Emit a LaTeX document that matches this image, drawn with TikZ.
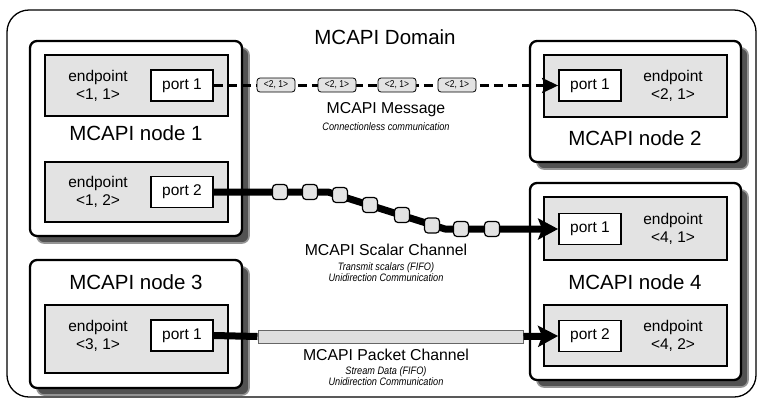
\documentclass[tikz,border=0pt]{standalone}
\usepackage{fontspec}
\setmainfont{Liberation Sans}
\newfontfamily\narrowfont[FakeStretch=0.85]{Liberation Sans}
\usetikzlibrary{arrows.meta}

\begin{document}
\begin{tikzpicture}[x=1pt,y=-1pt,
  domainframe/.style={draw=black, line width=1.3pt, rounded corners=22pt},
  nodebox/.style={draw=black, line width=2.3pt, fill=white, rounded corners=7pt},
  nshadow/.style={fill=black!68, draw=black!42, line width=1.6pt, rounded corners=7pt},
  epbox/.style={draw=black, line width=1.8pt, fill=black!11, inner sep=0pt},
  portbox/.style={draw=black, line width=1.8pt, fill=white, inner sep=0pt,
    minimum width=62pt, minimum height=31pt, font=\fontsize{15.5}{18}\selectfont},
  eptext/.style={align=center, font=\fontsize{15.5}{18}\selectfont},
  title/.style={font=\fontsize{20.5}{24}\selectfont},
  chtitle/.style={font=\fontsize{15.8}{18}\selectfont},
  chsub/.style={align=center, font=\narrowfont\itshape\fontsize{10.8}{10.5}\selectfont},
  msgbox/.style={draw=black, line width=0.8pt, fill=black!11, rounded corners=3pt,
    minimum width=38pt, minimum height=14pt, inner sep=0pt, font=\narrowfont\fontsize{10}{10}\selectfont},
  tok/.style={draw=black, line width=1.2pt, fill=black!11, rounded corners=3.5pt,
    minimum width=15pt, minimum height=15pt, inner sep=0pt},
  msgline/.style={line width=2.8pt, dash pattern=on 9pt off 5pt,
    -{Stealth[length=16pt,width=15pt,inset=3pt]}},
  chan/.style={line width=7pt, line join=round},
  chanarrow/.style={chan, -{Stealth[length=20pt,width=21pt,inset=4pt]}},
  pktbar/.style={draw=black!60, line width=1pt, fill=black!13, inner sep=0pt,
    minimum width=265pt, minimum height=13pt}
]
\useasboundingbox (0,0) rectangle (758,400);

% domain frame
\draw[domainframe] (7,10) rectangle (756,397);
\node[title] (domain) at (385,37) {MCAPI Domain};

% node shadows
\draw[nshadow] (37,48) rectangle (249,243);
\draw[nshadow] (537,48) rectangle (748,169);
\draw[nshadow] (37,267) rectangle (249,395);
\draw[nshadow] (537,190) rectangle (748,387);

% node boxes
\node[nodebox, minimum width=212pt, minimum height=195pt] (n1) at (136,138.5) {};
\node[nodebox, minimum width=211pt, minimum height=121pt] (n2) at (635.5,101.5) {};
\node[nodebox, minimum width=212pt, minimum height=128pt] (n3) at (136,324) {};
\node[nodebox, minimum width=211pt, minimum height=197pt] (n4) at (635.5,281.5) {};

\node[title] (t1) at (136,133) {MCAPI node 1};
\node[title] (t2) at (635,138) {MCAPI node 2};
\node[title] (t3) at (136,282) {MCAPI node 3};
\node[title] (t4) at (635,282) {MCAPI node 4};

% endpoints
\node[epbox, minimum width=183pt, minimum height=61pt] (e11) at (136.5,85.5) {};
\node[epbox, minimum width=183pt, minimum height=60pt] (e12) at (136.5,192) {};
\node[epbox, minimum width=183pt, minimum height=68pt] (e31) at (136.5,339) {};
\node[epbox, minimum width=183pt, minimum height=62pt] (e21) at (635.5,86) {};
\node[epbox, minimum width=183pt, minimum height=63pt] (e41) at (635.5,228.5) {};
\node[epbox, minimum width=183pt, minimum height=61pt] (e42) at (635.5,335.5) {};

\node[eptext] (l11) at (98,86) {endpoint\\<1, 1>};
\node[eptext] (l12) at (98,192) {endpoint\\<1, 2>};
\node[eptext] (l31) at (98,336) {endpoint\\<3, 1>};
\node[eptext] (l21) at (673,86) {endpoint\\<2, 1>};
\node[eptext] (l41) at (673,229) {endpoint\\<4, 1>};
\node[eptext] (l42) at (673,336) {endpoint\\<4, 2>};

% ports
\node[portbox] (p11) at (182,85.5) {port 1};
\node[portbox] (p12) at (182,192) {port 2};
\node[portbox] (p31) at (182,335.5) {port 1};
\node[portbox] (p21) at (590,85.5) {port 1};
\node[portbox] (p41) at (590,229) {port 1};
\node[portbox] (p42) at (590,336) {port 2};

% message: connectionless
\draw[msgline] (p11.east) -- (p21.west);
\node[msgbox] (m1) at (276,85) {<2, 1>};
\node[msgbox] (m2) at (337,85) {<2, 1>};
\node[msgbox] (m3) at (397,85) {<2, 1>};
\node[msgbox] (m4) at (457,85) {<2, 1>};
\node[chtitle] (mt) at (386,110) {MCAPI Message};
\node[chsub] (ms) at (386,127) {Connectionless communication};

% scalar channel
\coordinate (b1) at (328,192);
\coordinate (b2) at (445,229);
\draw[chanarrow] (p12.east) -- (b1) -- (b2) -- (p41.west);
\node[tok] (s1) at (280,192) {};
\node[tok] (s2) at (310,192) {};
\node[tok] (s3) at (340,195) {};
\node[tok] (s4) at (370,205) {};
\node[tok] (s5) at (402,215) {};
\node[tok] (s6) at (432,225.5) {};
\node[tok] (s7) at (461,229) {};
\node[tok] (s8) at (492,229) {};
\node[chtitle] (st) at (386,250) {MCAPI Scalar Channel};
\node[chsub] (ss) at (386,272) {Transmit scalars (FIFO)\\Unidirection Communication};

% packet channel
\node[pktbar] (pk) at (390.5,336.5) {};
\draw[chan] (p31.east) -- (pk.west);
\draw[chanarrow] (pk.east) -- (p42.west);
\node[chtitle] (pt) at (386,355) {MCAPI Packet Channel};
\node[chsub] (ps) at (386,376) {Stream Data (FIFO)\\Unidirection Communication};
\end{tikzpicture}
\end{document}
